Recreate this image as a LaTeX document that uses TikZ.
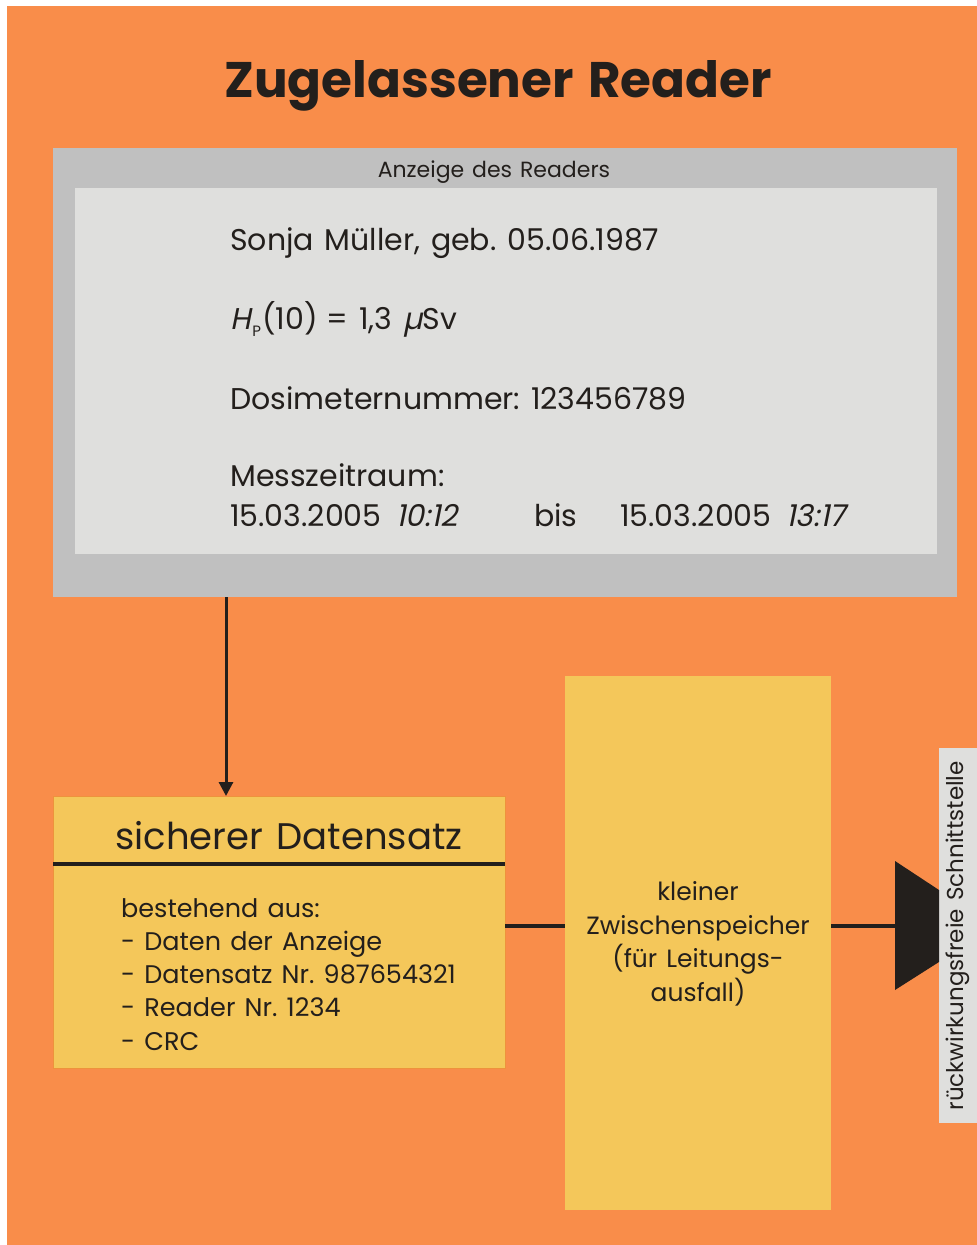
\documentclass[tikz,border=0pt]{standalone}
\usepackage{fontspec}
\setmainfont[WordSpace=1.35]{Poppins}
\newfontfamily\slantfont[FakeSlant=0.2,WordSpace=1.35]{Poppins}
\usetikzlibrary{arrows.meta}
\definecolor{bgorange}{RGB}{249,141,74}
\definecolor{boxyellow}{RGB}{244,199,90}
\definecolor{outergray}{RGB}{192,192,192}
\definecolor{innergray}{RGB}{223,223,221}
\definecolor{ink}{RGB}{35,31,28}
\definecolor{edgeorange}{RGB}{238,146,60}
\newcommand{\fs}[1]{\fontsize{#1}{#1}\selectfont}
\frenchspacing
\begin{document}
\begin{tikzpicture}[x=1pt,y=-1pt,
  every node/.style={text=ink},
  panel/.style={anchor=north west, inner sep=0pt, outer sep=0pt},
  txt/.style={anchor=base west, inner sep=0pt, font=\fs{30}},
  link/.style={draw=ink, line width=4.5pt},
]
\useasboundingbox (0,0) rectangle (977,1245);
\fill[bgorange] (7,6) rectangle (977,1245);
% title
\node[anchor=base, inner sep=0pt, font=\fs{50}\bfseries] (title) at (498,97) {Zugelassener Reader};
% display
\node[panel, fill=outergray, minimum width=904pt, minimum height=449pt] (display) at (53,148) {};
\node[panel, fill=innergray, minimum width=862pt, minimum height=366pt] (screen) at (75,188) {};
\node[anchor=base, inner sep=0pt, font=\fs{22}] (dlabel) at (494,177) {Anzeige des Readers};
\node[txt] (l1) at (230,250) {Sonja Müller, geb. 05.06.1987};
\node[txt] (l2) at (230,329) {{\slantfont H}\kern1.5pt\raisebox{-0.25em}{\fs{15}P}\kern1pt(10)\kern-2pt{} = 1,3 {\slantfont µ}Sv};
\node[txt] (l3) at (230,409) {Dosimeternummer: 123456789};
\node[txt] (l4) at (230,486) {Messzeitraum:};
\node[txt] (l5) at (230,526) {15.03.2005\kern4pt{} {\slantfont 10:12}};
\node[txt] (l6) at (534,526) {bis};
\node[txt] (l7) at (620,526) {15.03.2005\kern4pt{} {\slantfont 13:17}};
% data record
\node[panel, fill=boxyellow, draw=edgeorange, line width=0.8pt, minimum width=452pt, minimum height=272pt] (record) at (53,796) {};
\node[anchor=base, inner sep=0pt, font=\fs{37}] (rtitle) at (289,849) {sicherer Datensatz};
\draw[ink, line width=4pt] (record.west |- 0,864) -- (record.east |- 0,864);
\node[anchor=base west, inner sep=0pt, align=left, font={\fontsize{25.5}{33.2}\selectfont}] (rlist) at (121,1050)
  {bestehend aus:\\- Daten der Anzeige\\- Datensatz Nr. 987654321\\- Reader Nr. 1234\\- CRC};
% buffer
\node[panel, fill=boxyellow, minimum width=266pt, minimum height=534pt] (buffer) at (565,676) {};
\node[anchor=base, inner sep=0pt, align=center, font={\fontsize{25}{33.5}\selectfont}] (btext) at (698,1001)
  {kleiner\\Zwischenspeicher\\(für Leitungs-\\ausfall)};
% interface
\node[anchor=north west, fill=innergray, inner sep=0pt, minimum width=38pt, minimum height=375pt] (iface) at (939,748) {};
\node[rotate=90, inner sep=0pt, font=\fs{23}] (ilabel) at (iface.center) {rückwirkungsfreie Schnittstelle};
\fill[ink] (895,861) -- (939,890) -- (939,962) -- (895,990) -- cycle;
\coordinate (trapL) at (895,926);
% connectors
\draw[ink, line width=3pt, -{Triangle[length=14pt,width=14pt]}] (display.south -| 226,0) -- (record.north -| 226,0);
\draw[link] (record.east |- 0,926) -- (buffer.west |- 0,926);
\draw[link] (buffer.east |- 0,926) -- (trapL);
\end{tikzpicture}
\end{document}
